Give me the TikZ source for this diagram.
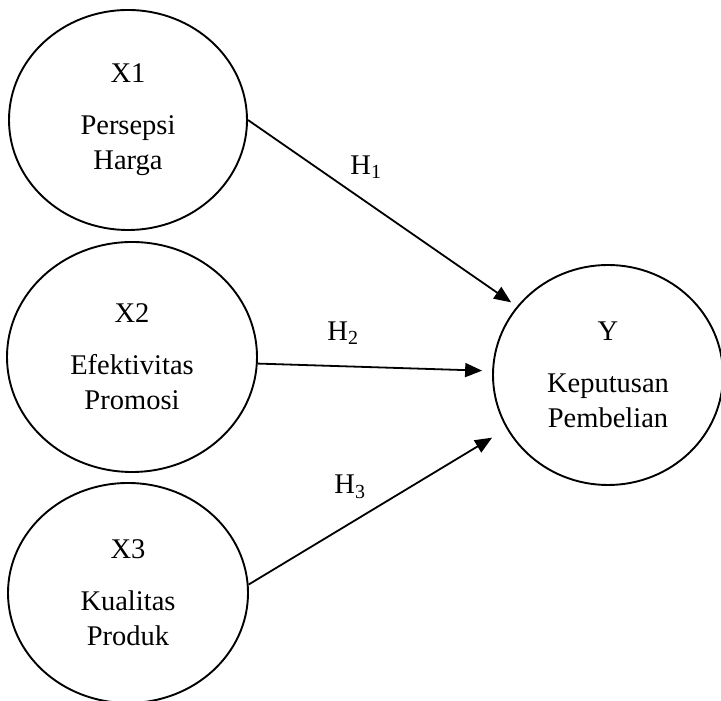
\documentclass[tikz,border=0pt]{standalone}
\usepackage{fontspec}
\setmainfont{Liberation Serif}
\usetikzlibrary{arrows.meta, shapes.geometric}

\begin{document}
\begin{tikzpicture}[
    x=1pt, y=1pt,
    var/.style={ellipse, draw=black, line width=1.9pt, inner sep=0pt,
      minimum width=#1, align=center,
      font=\fontsize{28.5}{35}\selectfont},
    hyp/.style={-{Triangle[length=17pt, width=14pt]}, line width=1.8pt},
    hlab/.style={font=\fontsize{28.5}{30}\selectfont}
  ]
  \useasboundingbox (0,0) rectangle (721,701);
  \node[var=238pt, minimum height=220pt] (x1) at (128,581) {X1\\[17pt]Persepsi\\Harga};
  \node[var=250pt, minimum height=230pt] (x2) at (132,344) {X2\\[17pt]Efektivitas\\Promosi};
  \node[var=240pt, minimum height=220pt] (x3) at (128,108) {X3\\[17pt]Kualitas\\Produk};
  \node[var=230pt, minimum height=220pt] (y) at (608,326) {Y\\[17pt]Keputusan\\Pembelian};
  \draw[hyp, shorten >=7pt] (x1.east) -- (y.143);
  \draw[hyp, shorten >=10pt] (x2.-3) -- (y.178);
  \draw[hyp, shorten >=17pt] (x3.4) -- (y.208);
  \node[hlab] (h1) at (366,534) {H\textsubscript{1}};
  \node[hlab] (h2) at (343,368) {H\textsubscript{2}};
  \node[hlab] (h3) at (350,214) {H\textsubscript{3}};
\end{tikzpicture}
\end{document}
